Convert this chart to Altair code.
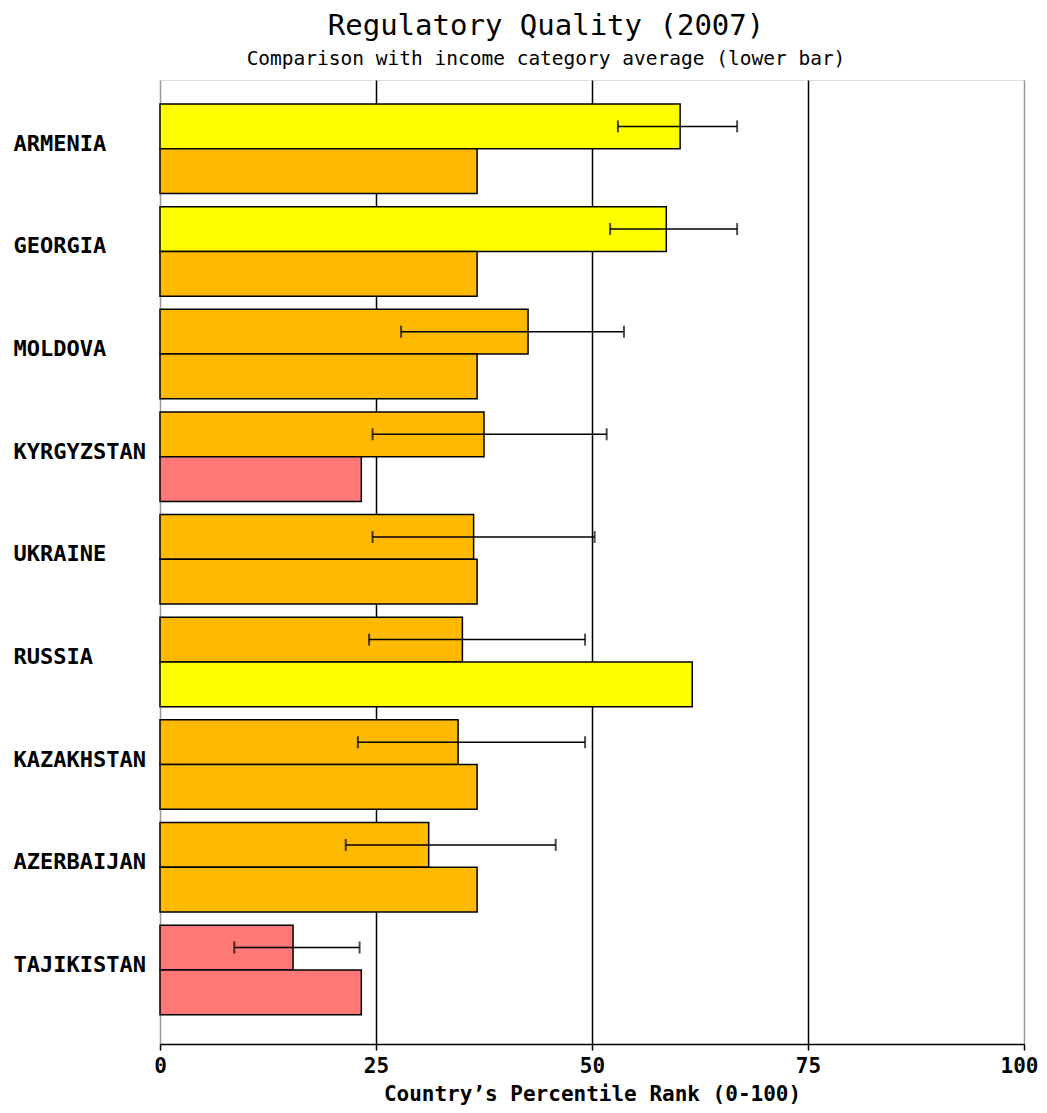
import altair as alt
import pandas as pd

countries = ["ARMENIA", "GEORGIA", "MOLDOVA", "KYRGYZSTAN", "UKRAINE",
             "RUSSIA", "KAZAKHSTAN", "AZERBAIJAN", "TAJIKISTAN"]
country_rank = [60.2, 58.6, 42.6, 37.5, 36.3, 35.0, 34.5, 31.1, 15.4]
err_low = [53.0, 52.1, 27.9, 24.6, 24.6, 24.2, 22.9, 21.5, 8.6]
err_high = [66.8, 66.8, 53.7, 51.7, 50.3, 49.2, 49.2, 45.8, 23.1]
income_avg = [36.7, 36.7, 36.7, 23.3, 36.7, 61.6, 36.7, 36.7, 23.3]
country_band = ["50-75", "50-75", "25-50", "25-50", "25-50", "25-50", "25-50", "25-50", "10-25"]
avg_band = ["25-50", "25-50", "25-50", "10-25", "25-50", "50-75", "25-50", "25-50", "10-25"]

band_domain = ["10-25", "25-50", "50-75"]
band_colors = ["#FF7777", "#FFB900", "#FFFF00"]

FONT = "DejaVu Sans Mono"

rows = []
for i, c in enumerate(countries):
    rows.append({"country": c, "which": "country", "value": country_rank[i], "band": country_band[i]})
    rows.append({"country": c, "which": "average", "value": income_avg[i], "band": avg_band[i]})
bars_df = pd.DataFrame(rows)

err_df = pd.DataFrame({"country": countries, "which": ["country"] * len(countries),
                       "low": err_low, "high": err_high})

y_enc = alt.Y("country:N", sort=countries,
              scale=alt.Scale(paddingInner=0.128, paddingOuter=0.26, align=0.45),
              axis=alt.Axis(title=None, labelAlign="left", labelPadding=147, ticks=False,
                            domain=False, labelFont=FONT, labelFontWeight="bold",
                            labelFontSize=22, labelColor="black", labelOffset=-5))
yoff = alt.YOffset("which:N", sort=["country", "average"],
                   scale=alt.Scale(domain=["country", "average"], paddingInner=0, paddingOuter=0))

x_enc = alt.X("value:Q", scale=alt.Scale(domain=[0, 100], nice=False),
              axis=alt.Axis(title="Country’s Percentile Rank (0-100)", values=[0, 25, 50, 75, 100],
                            grid=True,
                            gridColor={"condition": {"test": "datum.value == 0 || datum.value == 100",
                                                     "value": "#999999"}, "value": "black"},
                            gridWidth=1.5, tickSize=6, tickColor="black", tickWidth=1.5,
                            domainColor="black", domainWidth=1.5, labelFlush=False,
                            labelAlign={"condition": {"test": "datum.value == 100", "value": "right"},
                                        "value": "center"},
                            labelOffset={"condition": {"test": "datum.value == 100", "value": 14},
                                         "value": 0},
                            labelFont=FONT, labelFontWeight="bold", labelFontSize=21,
                            labelColor="black", labelPadding=5,
                            titleFont=FONT, titleFontWeight="bold", titleFontSize=21,
                            titleColor="black", titlePadding=7))

bars = alt.Chart(bars_df).mark_bar(stroke="black", strokeWidth=1.5).encode(
    x=x_enc,
    y=y_enc,
    yOffset=yoff,
    color=alt.Color("band:N", scale=alt.Scale(domain=band_domain, range=band_colors), legend=None),
)

rule = alt.Chart(err_df).mark_rule(color="black", strokeWidth=1.5).encode(
    x=alt.X("low:Q"), x2="high:Q",
    y=alt.Y("country:N", sort=countries),
    yOffset=alt.YOffset("which:N", sort=["country", "average"]),
)
cap_lo = alt.Chart(err_df).mark_tick(color="black", thickness=2, size=12).encode(
    x=alt.X("low:Q"),
    y=alt.Y("country:N", sort=countries),
    yOffset=alt.YOffset("which:N", sort=["country", "average"]),
)
cap_hi = alt.Chart(err_df).mark_tick(color="black", thickness=2, size=12).encode(
    x=alt.X("high:Q"),
    y=alt.Y("country:N", sort=countries),
    yOffset=alt.YOffset("which:N", sort=["country", "average"]),
)

chart = alt.layer(bars, rule, cap_lo, cap_hi).properties(
    width=864, height=964,
    title=alt.Title(text="Regulatory Quality (2007)",
                    subtitle="Comparison with income category average (lower bar)",
                    font=FONT, fontSize=29, fontWeight="normal", color="black",
                    subtitleFont=FONT, subtitleFontSize=19.5, subtitleColor="black",
                    subtitlePadding=9, anchor="middle", dx=-46, offset=12),
    autosize=alt.AutoSizeParams(type="none"),
    padding={"left": 152, "top": 72, "right": 15, "bottom": 61},
).configure_view(stroke="#999999", strokeWidth=1.5).configure(background="white")

chart.save("out.html", embed_options={"renderer": "svg", "actions": False})
